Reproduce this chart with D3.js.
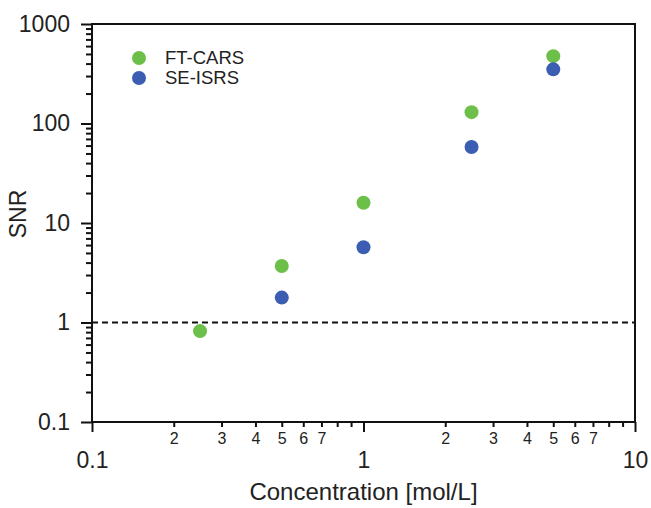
<!DOCTYPE html>
<html>
<head>
<meta charset="utf-8">
<script src="https://cdn.jsdelivr.net/npm/d3@7"></script>
<style>
  body { margin: 0; background: #fff; }
  text { font-family: "Liberation Sans", Arial, sans-serif; fill: #222; }
</style>
</head>
<body>
<div id="chart"></div>
<script>
// data
var ftConc = [0.25, 0.5, 1, 2.5, 5];
var ftSNR = [0.82, 3.7, 16, 130, 475];
var seConc = [0.5, 1, 2.5, 5];
var seSNR = [1.78, 5.7, 58, 350];
var seriesNames = ["FT-CARS", "SE-ISRS"];
var seriesColors = ["#6cc04a", "#3b5db2"];
var xMajor = [0.1, 1, 10];
var yMajor = [0.1, 1, 10, 100, 1000];
var minorDigits = [2, 3, 4, 5, 6, 7, 8, 9];
var labelledMinor = [2, 3, 4, 5, 6, 7];

var margin = {top: 24, right: 16, bottom: 86, left: 92},
    width = 651 - margin.left - margin.right,
    height = 508 - margin.top - margin.bottom;

var svg = d3.select("#chart").append("svg")
    .attr("width", 651)
    .attr("height", 508)
  .append("g")
    .attr("transform", "translate(" + margin.left + "," + margin.top + ")");

var x = d3.scaleLog().domain([0.1, 10]).range([0, width]);
var y = d3.scaleLog().domain([0.1, 1000]).range([height, 0]);

// minor tick positions
var xMinor = [], yMinor = [];
[0.1, 1].forEach(function(d) { minorDigits.forEach(function(m) { xMinor.push(d * m); }); });
[0.1, 1, 10, 100].forEach(function(d) { minorDigits.forEach(function(m) { yMinor.push(d * m); }); });

// x axis: minor ticks with small labels
var xMinorAxis = svg.append("g")
    .attr("transform", "translate(0," + height + ")")
    .call(d3.axisBottom(x).tickValues(xMinor).tickSize(5).tickPadding(6)
      .tickFormat(function(d) {
        var m = Math.round(d / Math.pow(10, Math.floor(Math.log10(d) + 1e-9)));
        return labelledMinor.indexOf(m) >= 0 ? m : "";
      }));
xMinorAxis.selectAll("text").style("font-size", "16px");

// x axis: major ticks
var xMajorAxis = svg.append("g")
    .attr("transform", "translate(0," + height + ")")
    .call(d3.axisBottom(x).tickValues(xMajor).tickSize(10).tickPadding(20)
      .tickFormat(function(d) { return d; }));
xMajorAxis.selectAll("text").style("font-size", "23px");

// y axis
svg.append("g")
    .call(d3.axisLeft(y).tickValues(yMinor).tickSize(6).tickFormat(""));
var yMajorAxis = svg.append("g")
    .call(d3.axisLeft(y).tickValues(yMajor).tickSize(11).tickPadding(11)
      .tickFormat(function(d) { return d; }));
yMajorAxis.selectAll("text").style("font-size", "23px");

svg.selectAll(".domain").remove();
svg.selectAll(".tick line").attr("stroke", "#111").attr("stroke-width", 2);

// frame
svg.append("rect")
    .attr("width", width)
    .attr("height", height)
    .attr("fill", "none")
    .attr("stroke", "#111")
    .attr("stroke-width", 2);

// SNR = 1 line
svg.append("line")
    .attr("x1", 0).attr("x2", width)
    .attr("y1", y(1)).attr("y2", y(1))
    .attr("stroke", "#111")
    .attr("stroke-width", 2)
    .attr("stroke-dasharray", "6,4");

// points
var series = [
  {name: seriesNames[0], color: seriesColors[0], pts: ftConc.map(function(c, i) { return {c: c, v: ftSNR[i]}; })},
  {name: seriesNames[1], color: seriesColors[1], pts: seConc.map(function(c, i) { return {c: c, v: seSNR[i]}; })}
];
series.forEach(function(s) {
  svg.selectAll(null)
    .data(s.pts)
    .enter()
    .append("circle")
    .attr("cx", function(d) { return x(d.c); })
    .attr("cy", function(d) { return y(d.v); })
    .attr("r", 7)
    .attr("fill", s.color);
});

// legend
var legend = svg.append("g").attr("transform", "translate(47,34)");
series.forEach(function(s, i) {
  legend.append("circle")
    .attr("cx", 0).attr("cy", i * 20)
    .attr("r", 7)
    .attr("fill", s.color);
  legend.append("text")
    .attr("x", 26).attr("y", i * 20)
    .attr("dy", "0.35em")
    .style("font-size", "18.5px")
    .text(s.name);
});

// axis titles
svg.append("text")
    .attr("x", width / 2)
    .attr("y", height + 78)
    .attr("text-anchor", "middle")
    .style("font-size", "24px")
    .text("Concentration [mol/L]");

svg.append("text")
    .attr("transform", "rotate(-90)")
    .attr("x", -190)
    .attr("y", -66)
    .attr("text-anchor", "middle")
    .style("font-size", "23px")
    .text("SNR");
</script>
</body>
</html>
